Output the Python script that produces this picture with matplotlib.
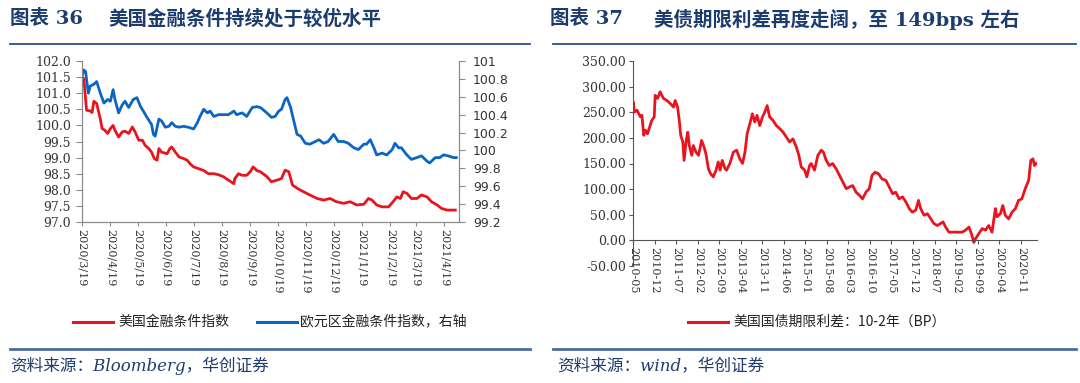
import matplotlib
matplotlib.use('Agg')
import matplotlib.pyplot as plt
import numpy as np
import pandas as pd
from matplotlib.lines import Line2D

plt.rcParams['font.family'] = ['Noto Sans CJK SC', 'DejaVu Sans']

# ---------------- left chart data (days since 2020-03-19) ----------------
left_start = '2020-03-19'
us_days = [0, 2, 5, 9, 11, 13, 16, 20, 22, 25,
           28, 31, 34, 36, 40, 44, 47, 51, 55, 58,
           62, 66, 69, 73, 76, 79, 82, 84, 87, 93,
           96, 98, 102, 106, 111, 115, 118, 122, 127, 133,
           138, 144, 149, 155, 160, 166, 167, 171, 175, 180,
           184, 187, 191, 195, 202, 207, 213, 218, 222, 226,
           230, 235, 242, 249, 257, 264, 271, 278, 286, 293,
           300, 308, 313, 317, 322, 328, 335, 340, 344, 348,
           351, 355, 360, 366, 371, 377, 382, 388, 393, 399,
           404, 408]
us_fci = [101.5, 101.45, 100.47, 100.45, 100.4, 100.75, 100.68, 100.2, 99.9, 99.85,
          99.75, 99.9, 100.0, 99.85, 99.64, 99.8, 99.82, 99.75, 99.95, 99.8,
          99.54, 99.54, 99.38, 99.28, 99.17, 98.97, 98.92, 99.28, 99.17, 99.12,
          99.28, 99.33, 99.17, 99.02, 98.97, 98.92, 98.81, 98.71, 98.66, 98.6,
          98.5, 98.5, 98.47, 98.4, 98.3, 98.19, 98.35, 98.5, 98.45, 98.45,
          98.57, 98.71, 98.6, 98.56, 98.41, 98.25, 98.3, 98.35, 98.61, 98.56,
          98.15, 98.05, 97.94, 97.84, 97.73, 97.68, 97.73, 97.63, 97.58, 97.63,
          97.53, 97.55, 97.73, 97.68, 97.53, 97.47, 97.47, 97.63, 97.78, 97.73,
          97.94, 97.89, 97.73, 97.73, 97.84, 97.78, 97.63, 97.53, 97.42, 97.37,
          97.37, 97.37]

ez_days = [0, 2, 4, 5, 7, 9, 13, 16, 20, 24,
           28, 31, 34, 36, 40, 44, 47, 51, 56, 60,
           64, 67, 71, 76, 78, 80, 84, 87, 91, 95,
           98, 102, 106, 111, 116, 122, 126, 129, 133, 137,
           140, 144, 149, 155, 160, 166, 169, 175, 180, 186,
           191, 195, 202, 207, 211, 215, 218, 222, 224, 228,
           231, 235, 239, 244, 249, 255, 259, 264, 269, 275,
           280, 286, 291, 297, 302, 308, 311, 315, 319, 322,
           328, 333, 339, 342, 346, 349, 355, 360, 366, 371,
           377, 380, 386, 391, 395, 400, 406, 409]
ez_fci = [100.83, 100.9, 100.88, 100.79, 100.64, 100.72, 100.74, 100.77, 100.64, 100.53,
          100.57, 100.55, 100.68, 100.57, 100.42, 100.51, 100.55, 100.48, 100.57, 100.59,
          100.49, 100.44, 100.37, 100.29, 100.18, 100.16, 100.35, 100.33, 100.26, 100.27,
          100.31, 100.27, 100.26, 100.27, 100.26, 100.24, 100.31, 100.38, 100.46, 100.42,
          100.44, 100.38, 100.40, 100.40, 100.40, 100.44, 100.40, 100.42, 100.38, 100.48,
          100.49, 100.48, 100.42, 100.37, 100.38, 100.44, 100.46, 100.57, 100.59, 100.48,
          100.35, 100.18, 100.16, 100.08, 100.07, 100.10, 100.12, 100.08, 100.10, 100.18,
          100.10, 100.10, 100.08, 100.03, 100.01, 100.07, 100.07, 100.12, 100.03, 99.95,
          99.97, 99.95, 100.01, 100.08, 100.03, 100.03, 99.95, 99.90, 99.92, 99.94,
          99.88, 99.86, 99.92, 99.92, 99.95, 99.94, 99.92, 99.92]

left_tick_dates = pd.date_range(left_start, periods=14, freq=pd.DateOffset(months=1))
left_yticks = [97.0, 97.5, 98.0, 98.5, 99.0, 99.5, 100.0, 100.5, 101.0, 101.5, 102.0]
right_yticks = [99.2, 99.4, 99.6, 99.8, 100.0, 100.2, 100.4, 100.6, 100.8, 101.0]

# ---------------- right chart data (months since 2010-05) ----------------
right_start = '2010-05-01'
spread_month = [0.2, 0.4, 1.3, 2.4, 2.9, 3.5, 4.0, 4.7, 5.4, 6.1,
                6.9, 7.2, 8.0, 8.8, 9.9, 11.0, 12.1, 13.2, 13.7, 14.5,
                15.1, 15.5, 16.2, 16.6, 17.3, 17.8, 18.3, 19.1, 19.6, 20.5,
                21.3, 22.3, 23.1, 23.7, 24.5, 25.2, 26.1, 27.0, 27.7, 28.3,
                29.0, 29.9, 30.4, 31.5, 32.6, 33.7, 34.7, 35.6, 36.4, 37.1,
                38.0, 38.8, 39.6, 40.3, 41.2, 42.1, 42.8, 43.6, 44.4, 45.5,
                46.6, 47.7, 48.8, 49.8, 50.9, 52.0, 53.1, 53.9, 54.7, 55.8,
                56.5, 57.4, 57.9, 59.0, 60.1, 61.2, 61.9, 62.8, 63.8, 64.9,
                66.0, 67.1, 68.2, 69.3, 70.3, 71.4, 72.5, 73.6, 74.6, 75.7,
                76.8, 77.7, 78.7, 79.8, 80.9, 82.2, 83.3, 84.4, 85.4, 86.5,
                87.6, 88.7, 89.8, 90.8, 91.9, 92.8, 93.5, 94.6, 95.7, 96.8,
                97.8, 98.9, 100.0, 100.8, 101.6, 102.7, 103.8, 105.4, 107.0, 108.1,
                109.2, 110.0, 110.8, 111.3, 112.4, 113.5, 114.6, 115.6, 116.7, 117.8,
                118.3, 119.4, 120.2, 121.0, 122.1, 123.2, 124.3, 125.3, 126.4, 127.5,
                128.6, 129.3, 130.0, 130.5, 131.0]
spread_bp = [268, 250, 254, 241, 244, 205, 215, 208, 221, 234,
             241, 283, 277, 290, 277, 273, 267, 260, 273, 260,
             231, 205, 192, 156, 195, 211, 185, 166, 185, 172,
             166, 195, 182, 169, 140, 130, 124, 137, 153, 137,
             156, 140, 137, 150, 172, 176, 159, 150, 172, 208,
             228, 247, 231, 244, 224, 241, 250, 263, 241, 234,
             224, 218, 211, 202, 192, 198, 182, 166, 143, 137,
             124, 146, 150, 137, 166, 176, 172, 156, 146, 150,
             140, 127, 114, 101, 104, 107, 94, 88, 81, 94,
             101, 127, 133, 130, 120, 117, 104, 91, 94, 81,
             85, 75, 62, 55, 59, 78, 62, 49, 52, 42,
             33, 29, 33, 36, 26, 16, 16, 16, 16, 20,
             26, 13, -4, 3, 13, 23, 20, 29, 16, 62,
             46, 52, 68, 49, 42, 55, 62, 78, 81, 101,
             117, 156, 159, 146, 150]
spread_yticks = [-50, 0, 50, 100, 150, 200, 250, 300, 350]
spread_tick_dates = pd.date_range(right_start, periods=19, freq='7MS')

# ---------------- styling ----------------
RED = '#E8141E'
BLUE = '#0A66C2'
NAVY = '#1d3c6e'
GRAY = '#8a8a8a'
W, H = 1080, 383
SERIF = ['DejaVu Serif', 'Noto Sans CJK SC']
CJK = ['Noto Sans CJK SC', 'DejaVu Serif']

def fx(px):
    return px / W

def fy(py):
    return 1 - py / H

fig = plt.figure(figsize=(W / 100, H / 100), dpi=100)

# ---------------- left chart ----------------
us_dates = pd.Timestamp(left_start) + pd.to_timedelta(us_days, unit='D')
ez_dates = pd.Timestamp(left_start) + pd.to_timedelta(ez_days, unit='D')

ax1 = fig.add_axes([fx(82), fy(222), fx(459 - 82), 161 / H])
ax1.plot(us_dates, us_fci, color=RED, lw=2.0, solid_joinstyle='round')
ax1.set_ylim(97, 102)
ax1.set_xlim(pd.Timestamp(left_start), pd.Timestamp(left_start) + pd.Timedelta(days=412))
ax1.set_yticks(left_yticks)
ax1.set_yticklabels([f'{v:.1f}' for v in left_yticks], fontfamily='DejaVu Serif',
                    fontsize=9, color='#333333')
ax1.set_xticks(left_tick_dates)
ax1.set_xticklabels([f'{d.year}/{d.month}/{d.day}' for d in left_tick_dates],
                    rotation=270, fontfamily='DejaVu Serif', fontsize=8, color='#333333')
ax1.tick_params(axis='x', length=3, color=GRAY, width=0.8, pad=2)
ax1.tick_params(axis='y', length=4, color=GRAY, width=0.8, pad=4)
ax1.spines['top'].set_visible(False)
for s in ['left', 'bottom', 'right']:
    ax1.spines[s].set_color(GRAY)
    ax1.spines[s].set_linewidth(0.8)

ax1b = ax1.twinx()
ax1b.plot(ez_dates, ez_fci, color=BLUE, lw=2.0, solid_joinstyle='round')
ax1b.set_ylim(99.2, 101)
ax1b.set_yticks(right_yticks)
ax1b.set_yticklabels([f'{round(v, 1):g}' for v in right_yticks], fontfamily='DejaVu Sans',
                     fontsize=9, color='#333333')
ax1b.tick_params(axis='y', length=4, color=GRAY, width=0.8, pad=6)
ax1b.spines['top'].set_visible(False)
for s in ['left', 'bottom', 'right']:
    ax1b.spines[s].set_color(GRAY)
    ax1b.spines[s].set_linewidth(0.8)

# ---------------- right chart ----------------
spread_dates = pd.Timestamp(right_start) + pd.to_timedelta(np.array(spread_month) * 30.4375, unit='D')
ax2 = fig.add_axes([fx(633), fy(266), fx(1037 - 633), 205 / H])
ax2.spines['bottom'].set_position(('data', 0))
ax2.spines['top'].set_visible(False)
ax2.spines['right'].set_visible(False)
for s in ['left', 'bottom']:
    ax2.spines[s].set_color('#555555')
    ax2.spines[s].set_linewidth(0.8)
ax2.plot(spread_dates, spread_bp, color=RED, lw=2.0, solid_joinstyle='round')
ax2.set_ylim(-50, 350)
ax2.set_xlim(pd.Timestamp(right_start), pd.Timestamp('2021-04-10'))
ax2.set_yticks(spread_yticks)
ax2.set_yticklabels([f'{v:.2f}' for v in spread_yticks], fontfamily='DejaVu Serif',
                    fontsize=9, color='#333333')
ax2.set_xticks(spread_tick_dates)
ax2.set_xticklabels([d.strftime('%Y-%m') for d in spread_tick_dates], rotation=270,
                    fontfamily='DejaVu Serif', fontsize=8, color='#333333')
ax2.tick_params(axis='both', length=3, color='#555555', width=0.8, pad=2)

# ---------------- titles ----------------
fig.text(fx(10), fy(19), '图表 36', fontsize=14, fontweight='bold', color=NAVY,
         family=SERIF, va='center', ha='left')
fig.text(fx(108), fy(19), '美国金融条件持续处于较优水平', fontsize=14, fontweight='bold',
         color=NAVY, family=CJK, va='center', ha='left')
fig.text(fx(550), fy(19), '图表 37', fontsize=14, fontweight='bold', color=NAVY,
         family=SERIF, va='center', ha='left')
fig.text(fx(654), fy(19), '美债期限利差再度走阔，至 149bps 左右', fontsize=14,
         fontweight='bold', color=NAVY, family=SERIF, va='center', ha='left')

for x0, x1 in [(10, 530), (553, 1076)]:
    fig.add_artist(Line2D([fx(x0), fx(x1)], [fy(44), fy(44)], color='#2b4f86', lw=1.3,
                          transform=fig.transFigure))
    fig.add_artist(Line2D([fx(x0), fx(x1)], [fy(349), fy(349)], color='#4a6c9c', lw=2.0,
                          transform=fig.transFigure))

# ---------------- legends ----------------
legend_items = [
    (73, 113, 118, RED, '美国金融条件指数'),
    (257, 297, 300, BLUE, '欧元区金融条件指数，右轴'),
    (688, 728, 733, RED, '美国国债期限利差：10-2年（BP）'),
]
for x0, x1, tx, col, label in legend_items:
    fig.add_artist(Line2D([fx(x0), fx(x1)], [fy(322), fy(322)], color=col, lw=2.2,
                          transform=fig.transFigure))
    fig.text(fx(tx), fy(322), label, fontsize=10, color='#222222', family=CJK,
             va='center', ha='left')

# ---------------- footers ----------------
fig.text(fx(10), fy(366), '资料来源：Bloomberg，华创证券', fontsize=12, color=NAVY,
         style='italic', family=SERIF, va='center', ha='left')
fig.text(fx(557), fy(366), '资料来源：wind，华创证券', fontsize=12, color=NAVY,
         style='italic', family=SERIF, va='center', ha='left')

fig.savefig('out.png', dpi=100)
